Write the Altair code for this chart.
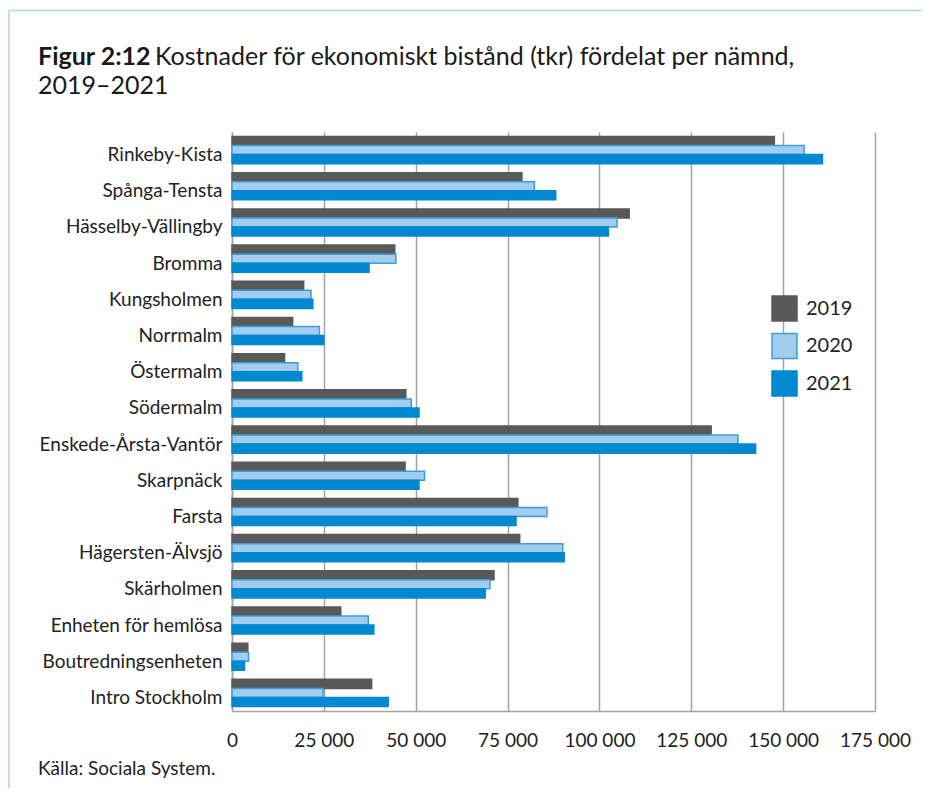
import altair as alt
import pandas as pd

categories = ["Rinkeby-Kista", "Spånga-Tensta", "Hässelby-Vällingby", "Bromma",
              "Kungsholmen", "Norrmalm", "Östermalm", "Södermalm",
              "Enskede-Årsta-Vantör", "Skarpnäck", "Farsta", "Hägersten-Älvsjö",
              "Skärholmen", "Enheten för hemlösa", "Boutredningsenheten", "Intro Stockholm"]
years = ["2019", "2020", "2021"]
v2019 = [147600, 78900, 108100, 44300, 19500, 16500, 14300, 47300,
         130400, 47100, 77800, 78300, 71300, 29600, 4300, 38000]
v2020 = [155700, 82300, 104800, 44600, 21500, 23800, 17900, 48800,
         137700, 52400, 85700, 90000, 70200, 37100, 4500, 24800]
v2021 = [160700, 88100, 102400, 37300, 22000, 25000, 19000, 50900,
         142500, 50900, 77300, 90400, 68900, 38600, 3400, 42500]
x_ticks = [0, 25000, 50000, 75000, 100000, 125000, 150000, 175000]

title_bold = "Figur 2:12"
title_rest = "Kostnader för ekonomiskt bistånd (tkr) fördelat per nämnd,"
title_line2 = "2019–2021"
source = "Källa: Sociala System."

rows = []
for yr, vals in zip(years, [v2019, v2020, v2021]):
    for c, v in zip(categories, vals):
        rows.append({"nämnd": c, "år": yr, "kostnad": v})
df = pd.DataFrame(rows)

FONT = "Lato"
fill_colors = ["#595959", "#a3cdee", "#0089d1"]
stroke_colors = ["#595959", "#3b9edb", "#0089d1"]

legend_cfg = dict(title=None, orient="none", legendX=539, legendY=163,
                  symbolType="square", symbolSize=625,
                  symbolStrokeWidth=1.5, rowPadding=6.5,
                  labelFontSize=20, labelFont=FONT, labelColor="#222222",
                  labelOffset=8)

bars = alt.Chart(df).mark_bar(strokeWidth=1.5).encode(
    x=alt.X("kostnad:Q",
            scale=alt.Scale(domain=[0, 175000], nice=False),
            axis=alt.Axis(values=x_ticks, title=None, grid=True, gridColor="#a3a3a3",
                          gridWidth=1.5, domainColor="#a3a3a3", domainWidth=1.5,
                          ticks=False, labelPadding=20, labelFontSize=19, labelFont=FONT,
                          labelColor="#222222", labelOverlap=False, labelFlush=False,
                          labelExpr="datum.value == 0 ? '0' : format(datum.value/1000, 'd') + ' 000'")),
    y=alt.Y("nämnd:N", sort=categories,
            scale=alt.Scale(paddingInner=0.25, paddingOuter=0.125),
            axis=alt.Axis(title=None, ticks=False, domainColor="#a3a3a3", domainWidth=1.5,
                          labelPadding=10, labelFontSize=19, labelFont=FONT,
                          labelColor="#222222", labelLimit=0, labelOffset=5)),
    yOffset=alt.YOffset("år:N", sort=years),
    fill=alt.Fill("år:N", sort=years,
                  scale=alt.Scale(domain=years, range=fill_colors),
                  legend=alt.Legend(**legend_cfg)),
    stroke=alt.Stroke("år:N", sort=years,
                      scale=alt.Scale(domain=years, range=stroke_colors),
                      legend=alt.Legend(**legend_cfg)),
)

one = pd.DataFrame({"d": [0]})

t_bold = alt.Chart(one).mark_text(text=title_bold, font=FONT, fontWeight="bold", fontSize=25,
                                  align="left", baseline="alphabetic", color="#1a1a1a").encode(
    x=alt.value(-194), y=alt.value(-67))
t_rest = alt.Chart(one).mark_text(text=title_rest, font=FONT, fontSize=25,
                                  align="left", baseline="alphabetic", color="#1a1a1a").encode(
    x=alt.value(-77), y=alt.value(-67))
t_line2 = alt.Chart(one).mark_text(text=title_line2, font=FONT, fontSize=25,
                                   align="left", baseline="alphabetic", color="#1a1a1a").encode(
    x=alt.value(-194), y=alt.value(-38))
t_src = alt.Chart(one).mark_text(text=source, font=FONT, fontSize=19,
                                 align="left", baseline="alphabetic", color="#222222").encode(
    x=alt.value(-194), y=alt.value(643))

frame_top = alt.Chart(one).mark_rule(color="#a9d3f0", strokeWidth=1.5).encode(
    x=alt.value(-223), x2=alt.value(700), y=alt.value(-121.5))
frame_left = alt.Chart(one).mark_rule(color="#a9d3f0", strokeWidth=1.5).encode(
    x=alt.value(-223), y=alt.value(-121.5), y2=alt.value(660))

chart = alt.layer(frame_top, frame_left, bars, t_bold, t_rest, t_line2, t_src).properties(
    width=643, height=579,
    autosize=alt.AutoSizeParams(type="none"),
    padding={"left": 224, "top": 124, "right": 47, "bottom": 77},
    background="white",
).configure_view(stroke=None)

chart.save("out.html", embed_options={"renderer": "svg", "actions": False})
